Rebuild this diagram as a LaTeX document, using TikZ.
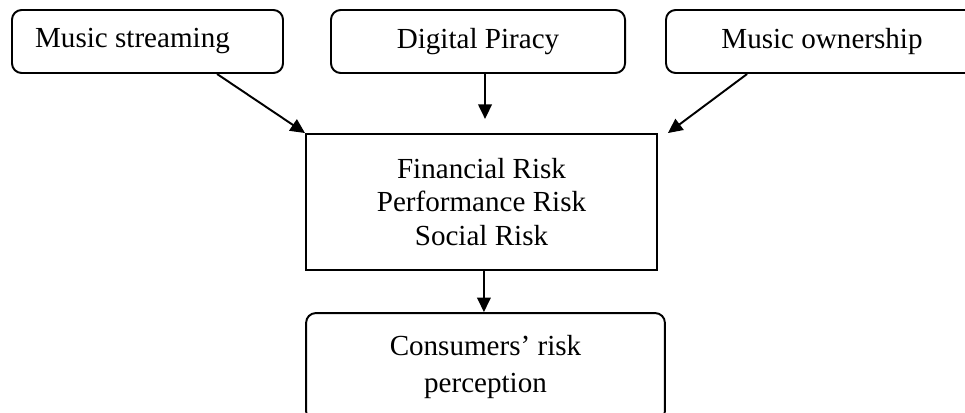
\documentclass[tikz,border=0pt]{standalone}
\usepackage{fontspec}
\setmainfont{Liberation Serif}
\usetikzlibrary{arrows.meta}

\begin{document}
\begin{tikzpicture}[x=0.4125pt, y=-0.4125pt, font=\fontsize{12}{13.8}\selectfont]
\tikzstyle{mybox} = [draw, line width=0.8pt, inner sep=0pt, align=center]
\tikzstyle{myround} = [mybox, rounded corners=4pt]
\tikzset{myarrow/.style={line width=0.8pt, -{Triangle[length=6pt, width=5.6pt]}}}
\clip (0,0) rectangle (965,412);

% three sources on top
\node [myround, minimum width=111.8pt, minimum height=26pt] (stream) at (147.5,41.5) {Music streaming\hspace*{12.4pt}};
\node [myround, minimum width=121.3pt, minimum height=26pt] (piracy) at (478,41.5) {Digital Piracy};
\node [myround, minimum width=128.7pt, minimum height=26pt] (owner) at (822,41.5) {Music ownership};

% risk box and outcome
\node [mybox, minimum width=144.8pt, minimum height=56.1pt] (risk) at (481.5,202)
  {Financial Risk\\Performance Risk\\Social Risk};
\node [myround, minimum width=148pt, minimum height=44.5pt, font=\fontsize{12}{15}\selectfont] (percept) at (485.5,367)
  {Consumers’ risk\\perception};

\draw [myarrow] ([xshift=28.7pt]stream.south) -- (risk.north west);
\draw [myarrow, shorten >=5.8pt] ([xshift=2.9pt]piracy.south) -- ([xshift=2.9pt]piracy.south |- risk.north);
\draw [myarrow] ([xshift=-30.9pt]owner.south) -- ([xshift=4.1pt]risk.north east);
\draw [myarrow] ([xshift=1pt]risk.south) -- ([xshift=1pt]risk.south |- percept.north);

\end{tikzpicture}
\end{document}
